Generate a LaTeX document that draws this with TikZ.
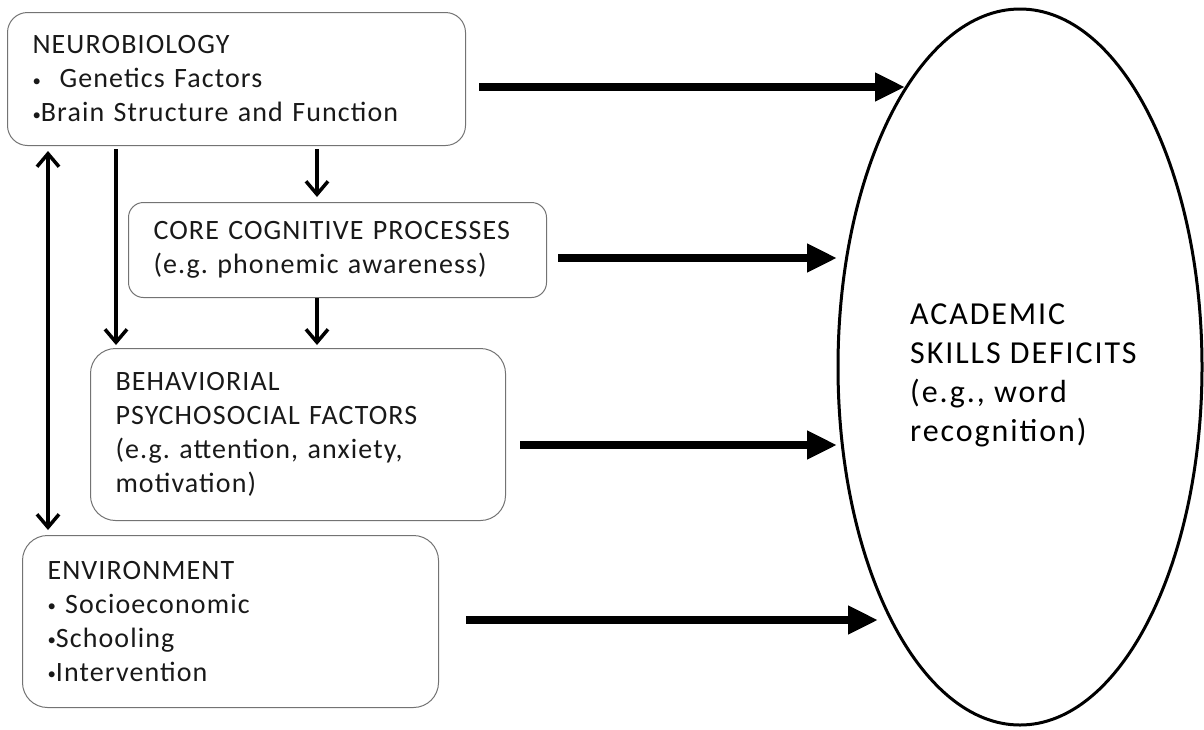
\documentclass[tikz,border=0pt]{standalone}
\usepackage{fontspec}
\usepackage{graphicx}
\setmainfont{Carlito}
\usetikzlibrary{arrows.meta,shapes.geometric}
\newcommand\smallbul{\raisebox{0.12ex}{\scalebox{0.6}{\textbullet}}}
\begin{document}
\begin{tikzpicture}[x=1pt,y=-1pt,
  box/.style={draw=black!55, line width=1pt, rounded corners=20pt, align=left,
    inner xsep=25pt, inner ysep=0pt, anchor=north west, text=black!90,
    font=\fontsize{28}{34}\selectfont\addfontfeatures{LetterSpace=4}\frenchspacing},
  barb/.tip={Straight Barb[length=13pt,width=22pt,line width=3.5pt]},
  thinarrow/.style={line width=3.5pt, -barb},
  dblarrow/.style={line width=3.5pt, barb-barb},
  bigarrow/.style={line width=7.5pt, -{Triangle[length=30pt,width=27pt]}},
  goal/.style={ellipse, draw=black, line width=3pt, minimum width=364pt, minimum height=716pt, inner sep=0pt}
]
\useasboundingbox (0,0) rectangle (1204,729);

% boxes
\node[box, text width=408pt, minimum height=133pt] (neuro) at (7,12)
  {NEUROBIOLOGY\\\smallbul\ \ Genetics Factors\\\smallbul Brain Structure and Function};
\node[box, rounded corners=15pt, text width=368pt, minimum height=95pt] (core) at (128,202)
  {CORE COGNITIVE PROCESSES\\(e.g. phonemic awareness)};
\node[box, rounded corners=25pt, text width=365pt, minimum height=172pt] (behav) at (90,348)
  {BEHAVIORIAL\\PSYCHOSOCIAL FACTORS\\(e.g. attention, anxiety,\\motivation)};
\node[box, rounded corners=25pt, text width=366pt, minimum height=172pt] (env) at (22,535)
  {ENVIRONMENT\\\smallbul\ Socioeconomic\\\smallbul Schooling\\\smallbul Intervention};

% goal ellipse
\node[goal] (acad) at (1020,367) {};
\node[anchor=north west, inner sep=0pt, align=left, text=black,
  font=\fontsize{32}{39}\selectfont\addfontfeatures{LetterSpace=6}\frenchspacing] (acadtext) at (910,304)
  {ACADEMIC\\SKILLS DEFICITS\\(e.g., word\\recognition)};

% guide coordinates
\coordinate (dx) at (48,0);
\coordinate (lx) at (116,0);
\coordinate (mx) at (317,0);
\coordinate (r1) at (0,87);
\coordinate (r2) at (0,258);
\coordinate (r3) at (0,445);
\coordinate (r4) at (0,620);
\coordinate (t1) at (905,87);
\coordinate (t2) at (837,258);
\coordinate (t3) at (837,445);
\coordinate (t4) at (878,620);

% vertical arrows
\draw[dblarrow, shorten <=5pt, shorten >=5pt] (neuro.south -| dx) -- (env.north -| dx);
\draw[thinarrow, shorten <=3pt, shorten >=3pt] (neuro.south -| lx) -- (behav.north -| lx);
\draw[thinarrow, shorten <=3pt, shorten >=5pt] (neuro.south -| mx) -- (core.north -| mx);
\draw[thinarrow, shorten >=3pt] (core.south -| mx) -- (behav.north -| mx);

% big arrows to ellipse
\draw[bigarrow, shorten <=13pt] (neuro.east |- r1) -- (t1);
\draw[bigarrow, shorten <=11pt] (core.east |- r2) -- (t2);
\draw[bigarrow, shorten <=14pt] (behav.east |- r3) -- (t3);
\draw[bigarrow, shorten <=27pt] (env.east |- r4) -- (t4);
\end{tikzpicture}
\end{document}
